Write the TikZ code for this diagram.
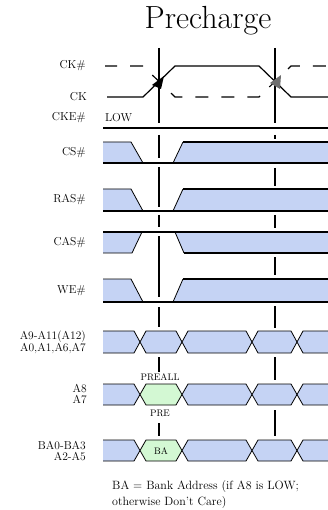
\documentclass[tikz,border=0pt]{standalone}
\usepackage{xcolor}
\definecolor{busblue}{RGB}{197,211,244}
\definecolor{busgreen}{RGB}{211,248,211}
\definecolor{tipgray}{RGB}{110,110,110}
\tikzset{
  lbl/.style={anchor=east,align=right,inner sep=0pt,font=\fontsize{11.5}{11}\selectfont},
  small/.style={inner sep=1pt,font=\fontsize{9.5}{10}\selectfont},
  sigline/.style={line width=1.2pt},
  edge/.style={line width=0.8pt},
  marker/.style={line width=1.7pt},
  ckdash/.style={line width=1.2pt,dash pattern=on 13pt off 13pt,dash phase=1pt},
}
% bus row: top, bottom, colour of the slot at the first marker
\newcommand{\busrow}[3]{%
  \fill[busblue] (103,#1) -- (134,#1) -- (140,{(#1+#2)/2}) -- (134,#2) -- (103,#2) -- cycle;
  \draw[edge] (103,#1) -- (134,#1) -- (140,{(#1+#2)/2}) -- (134,#2) -- (103,#2);
  \foreach \a/\b/\c in {140/182/#3,182/252/busblue,252/297/busblue}
    \draw[edge,fill=\c] (\a,{(#1+#2)/2}) -- (\a+6,#1) -- (\b-6,#1) -- (\b,{(#1+#2)/2})
      -- (\b-6,#2) -- (\a+6,#2) -- cycle;
  \fill[busblue] (328,#1) -- (303,#1) -- (297,{(#1+#2)/2}) -- (303,#2) -- (328,#2) -- cycle;
  \draw[edge] (328,#1) -- (303,#1) -- (297,{(#1+#2)/2}) -- (303,#2) -- (328,#2);
}
% command pulse, LOW at the first marker
\newcommand{\lowrow}[2]{%
  \fill[busblue] (103,#1) -- (131,#1) -- (143,#2) -- (103,#2) -- cycle;
  \fill[busblue] (183,#1) -- (328,#1) -- (328,#2) -- (173,#2) -- cycle;
  \draw[edge] (103,#1) -- (131,#1) -- (143,#2);
  \draw[edge] (173,#2) -- (183,#1);
  \draw[sigline] (183,#1) -- (328,#1);
  \draw[sigline] (103,#2) -- (328,#2);
}
\begin{document}
\begin{tikzpicture}[x=1pt,y=-1pt]
  \useasboundingbox (0,0) rectangle (328,510);
  \node (title) at (208,21) {\fontsize{32}{34}\selectfont Precharge};

  % markers
  \foreach \ya/\yb in {48/123,135/158,167/207,215/227,236/297,307/327,357/372,423/436}
    \draw[marker] (159,\ya) -- (159,\yb);
  \foreach \ya/\yb in {48/123,135/139,168/186,215/228,257/275,306/328,357/380,410/436}
    \draw[marker] (275,\ya) -- (275,\yb);

  % clock
  \draw[ckdash] (105,66) -- (143,66) -- (175,97) -- (259,97) -- (291,66) -- (328,66);
  \draw[sigline] (107,97) -- (143,97) -- (175,66) -- (259,66) -- (291,97) -- (328,97);
  \fill (164,76) -- (152,85) -- (161,89) -- cycle;
  \fill[tipgray] (270,83) -- (281,75) -- (280,89) -- cycle;
  \node[lbl] (ckn) at (86,66) {CK\#};
  \node[lbl] (ck) at (87,97) {CK};

  % CKE#
  \node[lbl] (cke) at (86,118) {CKE\#};
  \node[lbl,anchor=west] (low) at (105,118) {LOW};
  \draw[sigline] (103,128) -- (328,128);

  % command signals
  \lowrow{142}{163}
  \node[lbl] (cs) at (86,153) {CS\#};
  \lowrow{189}{211}
  \node[lbl] (ras) at (86,200) {RAS\#};
  \fill[busblue] (103,232) -- (142,232) -- (132,253) -- (103,253) -- cycle;
  \fill[busblue] (175,232) -- (328,232) -- (328,253) -- (184,253) -- cycle;
  \draw[edge] (103,253) -- (132,253) -- (142,232);
  \draw[edge] (175,232) -- (184,253);
  \draw[sigline] (184,253) -- (328,253);
  \draw[sigline] (103,232) -- (328,232);
  \node[lbl] (cas) at (86,243) {CAS\#};
  \lowrow{279}{302}
  \node[lbl] (we) at (86,291) {WE\#};

  % address
  \busrow{331}{353}{busblue}
  \node[lbl] (addr) at (86,342) {A9-A11(A12)\\A0,A1,A6,A7};
  \busrow{384}{405}{busgreen}
  \node[lbl] (aeight) at (87,394) {A8\\A7};
  \node[small] (preall) at (160,377) {PREALL};
  \node[small] (pre) at (160,413) {PRE};
  \busrow{440}{461}{busgreen}
  \node[small] (ba) at (161,451) {BA};
  \node[lbl] (bank) at (86,451) {BA0-BA3\\A2-A5};

  \node[anchor=north west,align=left,inner sep=0pt,font=\fontsize{12}{16}\selectfont] (note) at (112,480)
    {BA = Bank Address (if A8 is LOW;\\otherwise Don't Care)};
\end{tikzpicture}
\end{document}
